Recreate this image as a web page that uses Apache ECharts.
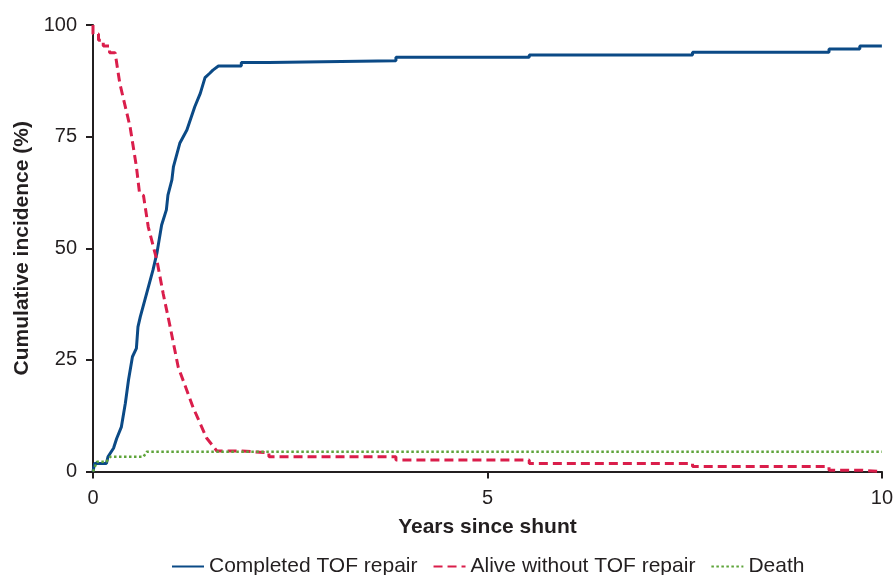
<!DOCTYPE html>
<html>
<head>
<meta charset="utf-8">
<script src="https://cdn.jsdelivr.net/npm/echarts@6/dist/echarts.min.js"></script>
<style>html,body{margin:0;padding:0;background:#fff}#c{width:896px;height:575px}</style>
</head>
<body>
<div id="c"></div>
<script>
// Data (years since shunt, cumulative incidence %)
var seriesNames = ['Completed TOF repair', 'Alive without TOF repair', 'Death'];
var xTicks = [0, 5, 10];
var yTicks = [0, 25, 50, 75, 100];

var repairX = [0, 0.02, 0.17, 0.19, 0.26, 0.30, 0.36, 0.41, 0.45, 0.50, 0.55, 0.57, 0.60, 0.68, 0.76, 0.81, 0.87, 0.93, 0.95, 1.00, 1.02, 1.10, 1.19, 1.29, 1.36, 1.42, 1.48, 1.52, 1.59, 1.88, 1.88, 2.23, 2.23, 3.84, 3.84, 5.53, 5.53, 7.60, 7.60, 9.33, 9.33, 9.72, 9.72, 10.0];
var repairY = [0, 1.8, 1.8, 3.3, 5.2, 7.4, 10.0, 15.3, 20.5, 25.7, 27.6, 32.4, 34.7, 39.9, 45.1, 48.9, 55.2, 58.6, 61.9, 65.3, 68.3, 73.5, 76.5, 81.7, 84.7, 88.2, 89.2, 89.9, 90.8, 90.8, 91.6, 91.6, 92.0, 92.0, 92.8, 92.8, 93.3, 93.3, 93.9, 93.9, 94.6, 94.6, 95.3, 95.3];

var aliveX = [0, 0, 0.07, 0.07, 0.13, 0.13, 0.21, 0.21, 0.28, 0.34, 0.47, 0.55, 0.59, 0.64, 0.70, 0.81, 0.89, 0.97, 1.08, 1.27, 1.44, 1.57, 1.88, 1.88, 2.23, 2.23, 3.84, 3.84, 5.53, 5.53, 7.60, 7.60, 9.33, 9.33, 9.72, 9.72, 10.0];
var aliveY = [100, 98, 98, 96.6, 96.6, 95.3, 95.3, 93.8, 93.8, 86.9, 77.2, 68.3, 62.3, 61.8, 54.8, 47.3, 39.8, 33.1, 23.4, 14.3, 7.5, 4.6, 4.6, 4.2, 4.2, 3.3, 3.3, 2.6, 2.6, 1.8, 1.8, 1.1, 1.1, 0.3, 0.3, 0, 0];

var deathX = [0, 0.05, 0.17, 0.22, 0.64, 0.68, 10.0];
var deathY = [0, 2.2, 2.2, 3.3, 3.3, 4.4, 4.4];

function pairs(xs, ys) { return xs.map(function (x, i) { return [x, ys[i]]; }); }

var chart = echarts.init(document.getElementById('c'), null, {renderer: 'canvas'});
var axisColor = '#231f20';
var font = 'Liberation Sans, Arial, sans-serif';
chart.setOption({
  animation: false,
  textStyle: {fontFamily: font},
  grid: {left: 93, right: 14, top: 25, bottom: 103.5, containLabel: false},
  xAxis: {
    type: 'value', min: xTicks[0], max: xTicks[xTicks.length - 1], interval: 5,
    name: 'Years since shunt', nameLocation: 'middle', nameGap: 45,
    nameTextStyle: {fontSize: 21, fontWeight: 'bold', color: axisColor, fontFamily: font},
    axisLine: {lineStyle: {color: axisColor, width: 2}},
    axisTick: {length: 7, lineStyle: {color: axisColor, width: 2}},
    axisLabel: {fontSize: 20, color: axisColor, margin: 17, fontFamily: font},
    splitLine: {show: false}
  },
  yAxis: {
    type: 'value', min: yTicks[0], max: yTicks[yTicks.length - 1], interval: 25,
    name: 'Cumulative incidence (%)', nameLocation: 'middle', nameGap: 60,
    nameTextStyle: {fontSize: 21, fontWeight: 'bold', color: axisColor, fontFamily: font},
    axisLine: {show: true, lineStyle: {color: axisColor, width: 2}},
    axisTick: {show: true, length: 7, lineStyle: {color: axisColor, width: 2}},
    axisLabel: {fontSize: 20, color: axisColor, margin: 16, fontFamily: font},
    splitLine: {show: false}
  },
  legend: {
    left: 166, bottom: -7, itemWidth: 32, itemHeight: 14, itemGap: 15,
    textStyle: {fontSize: 21, color: axisColor, fontFamily: font},
    itemStyle: {opacity: 0},
    data: seriesNames
  },
  series: [
    {name: seriesNames[0], type: 'line', symbol: 'none', data: pairs(repairX, repairY),
     lineStyle: {color: '#0b4a86', width: 3}, itemStyle: {color: '#0b4a86'}},
    {name: seriesNames[1], type: 'line', symbol: 'none', data: pairs(aliveX, aliveY),
     lineStyle: {color: '#da1e4b', width: 3, type: [9, 5]}, itemStyle: {color: '#da1e4b'}},
    {name: seriesNames[2], type: 'line', symbol: 'none', data: pairs(deathX, deathY),
     lineStyle: {color: '#5ea43a', width: 2.5, type: [2.5, 2.5]}, itemStyle: {color: '#5ea43a'}}
  ]
});
</script>
</body>
</html>
